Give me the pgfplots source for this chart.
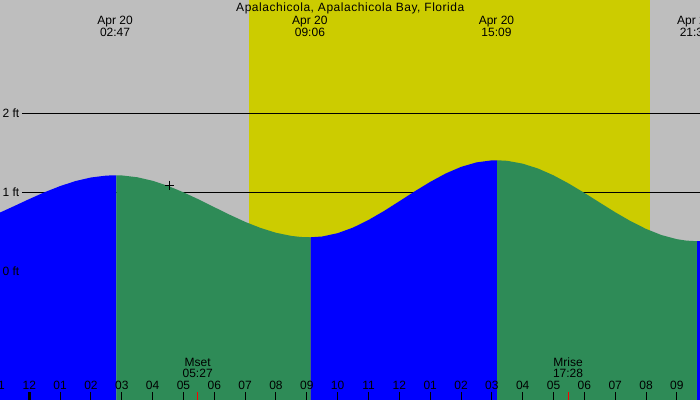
\documentclass[border=0pt]{standalone}
\usepackage{pgfplots}
\pgfplotsset{compat=1.18}
\usepackage{fontspec}
\setmainfont{Liberation Sans}
\definecolor{skygray}{RGB}{190,190,190}
\definecolor{sunyellow}{RGB}{204,204,0}
\definecolor{ebbgreen}{RGB}{46,139,87}
\newcommand{\lbl}{\fontsize{12}{13}\selectfont}

\begin{document}
\begin{tikzpicture}
\begin{axis}[
    width=700pt, height=400pt, scale only axis,
    xmin=-0.95, xmax=21.75, ymin=-1.63, ymax=3.434,
    axis background/.style={fill=skygray},
    axis line style={draw=none},
    axis on top,
    ytick=\empty,
    xtick pos=lower,
    tick align=inside,
    major tick length=8pt,
    tick style={black, line width=1pt},
    xtick={-1,1,2,3,4,5,6,7,8,9,10,11,12,13,14,15,16,17,18,19,20,21},
    xticklabels={11,01,02,03,04,05,06,07,08,09,10,11,12,01,02,03,04,05,06,07,08,09},
    extra x ticks={0},
    extra x tick labels={12},
    extra x tick style={major tick style={line width=3pt, black}},
    xticklabel style={font=\lbl, anchor=base, yshift=10pt},
]
% daylight
\addplot[fill=sunyellow, draw=none] coordinates {(7.13,-1.7) (7.13,3.5) (20.14,3.5) (20.14,-1.7)};
% reference lines
\addplot[black, line width=1pt] coordinates {(-0.24,1) (21.75,1)};
\addplot[black, line width=1pt] coordinates {(-0.24,2) (21.75,2)};
% rising (flood)
\addplot[fill=blue, draw=none] coordinates {
    (-0.95,-1.7) (-0.95,0.743) (-0.5,0.823) (0,0.914) (0.5,1.001) (1,1.078)
    (1.5,1.142) (2,1.187) (2.5,1.211) (2.82,1.215) (2.82,-1.7)};
% falling (ebb)
\addplot[fill=ebbgreen, draw=none] coordinates {
    (2.82,-1.7) (2.82,1.215) (3,1.213) (3.5,1.190) (4,1.145) (4.5,1.080) (5,0.999)
    (5.5,0.908) (6,0.811) (6.5,0.715) (7,0.625) (7.5,0.548) (8,0.487) (8.5,0.447)
    (8.8,0.434) (9.12,0.430) (9.12,-1.7)};
\addplot[fill=blue, draw=none] coordinates {
    (9.12,-1.7) (9.12,0.430) (9.5,0.440) (10,0.482) (10.5,0.553) (11,0.649)
    (11.5,0.762) (12,0.886) (12.5,1.012) (13,1.131) (13.5,1.237) (14,1.321)
    (14.5,1.378) (15,1.404) (15.17,1.405) (15.17,-1.7)};
\addplot[fill=ebbgreen, draw=none] coordinates {
    (15.17,-1.7) (15.17,1.405) (15.5,1.398) (16,1.362) (16.5,1.300) (17,1.214)
    (17.5,1.109) (18,0.992) (18.5,0.869) (19,0.747) (19.5,0.634) (20,0.536)
    (20.5,0.458) (21,0.406) (21.3,0.388) (21.66,0.380) (21.66,-1.7)};
\addplot[fill=blue, draw=none] coordinates {
    (21.66,-1.7) (21.66,0.380) (21.8,0.381) (21.8,-1.7)};
% current time marker
\addplot[black, only marks, mark=+, mark size=4.5pt, line width=1.4pt] coordinates {(4.54,1.089)};
% moon set / rise ticks
\addplot[red, line width=1pt] coordinates {(5.46,-1.63) (5.46,-1.529)};
\addplot[red, line width=1pt] coordinates {(17.47,-1.63) (17.47,-1.529)};

\node[anchor=base, font=\lbl] at (axis cs:-1,-1.503) {11};

\node[anchor=base, font=\lbl\addfontfeature{LetterSpace=4.5}] at (axis cs:10.41,3.289) {Apalachicola, Apalachicola Bay, Florida};
\node[anchor=base, font=\lbl] at (axis cs:2.78,3.130) {Apr 20};
\node[anchor=base, font=\lbl] at (axis cs:2.78,2.978) {02:47};
\node[anchor=base, font=\lbl] at (axis cs:9.10,3.130) {Apr 20};
\node[anchor=base, font=\lbl] at (axis cs:9.10,2.978) {09:06};
\node[anchor=base, font=\lbl] at (axis cs:15.15,3.130) {Apr 20};
\node[anchor=base, font=\lbl] at (axis cs:15.15,2.978) {15:09};
\node[anchor=base, font=\lbl] at (axis cs:21.58,3.130) {Apr 20};
\node[anchor=base, font=\lbl] at (axis cs:21.58,2.978) {21:36};

\node[anchor=base west, inner sep=0pt, font=\lbl] at (axis cs:-0.87,1.95) {2 ft};
\node[anchor=base west, inner sep=0pt, font=\lbl] at (axis cs:-0.87,0.95) {1 ft};
\node[anchor=base west, inner sep=0pt, font=\lbl] at (axis cs:-0.87,-0.05) {0 ft};

\node[anchor=base, font=\lbl] at (axis cs:5.46,-1.208) {Mset};
\node[anchor=base, font=\lbl] at (axis cs:5.46,-1.351) {05:27};
\node[anchor=base, font=\lbl] at (axis cs:17.47,-1.208) {Mrise};
\node[anchor=base, font=\lbl] at (axis cs:17.47,-1.351) {17:28};
\end{axis}
\pgfresetboundingbox
\useasboundingbox (current axis.south west) rectangle (current axis.north east);
\end{tikzpicture}
\end{document}
